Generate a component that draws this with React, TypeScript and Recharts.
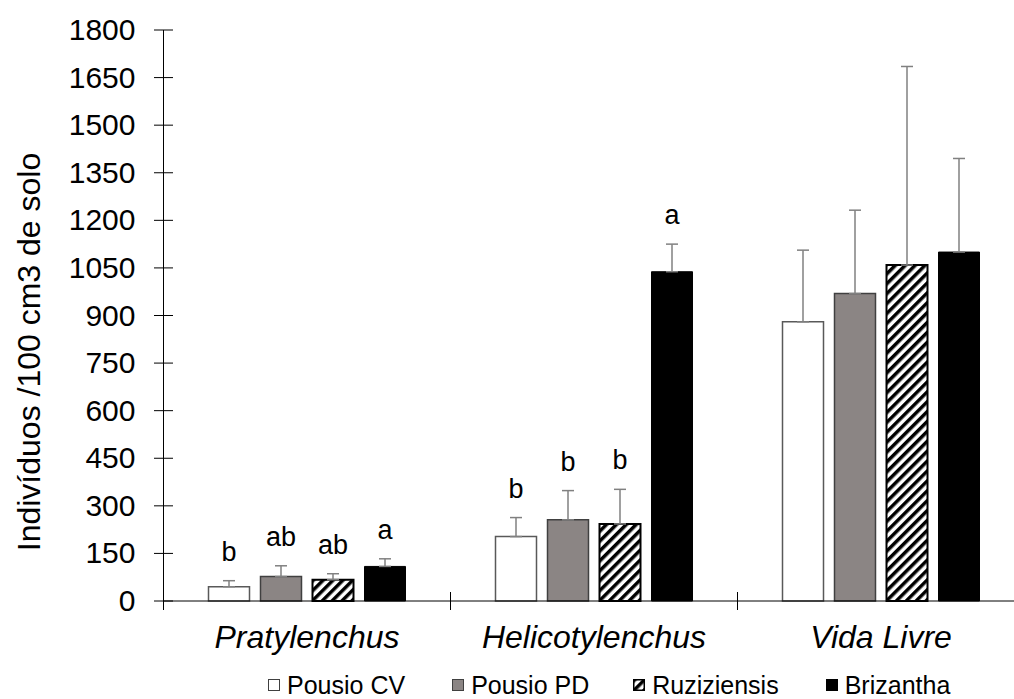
import { Bar, BarChart, ErrorBar, LabelList, Legend, XAxis, YAxis } from 'recharts'

const categories = ['Pratylenchus', 'Helicotylenchus', 'Vida Livre']
const seriesNames = ['Pousio CV', 'Pousio PD', 'Ruziziensis', 'Brizantha']

const pousioCV = [45, 203, 880]
const pousioCVErr = [19, 60, 226]
const pousioPD = [77, 256, 969]
const pousioPDErr = [34, 92, 263]
const ruziziensis = [67, 243, 1059]
const ruziziensisErr = [19, 109, 626]
const brizantha = [109, 1038, 1100]
const brizanthaErr = [24, 87, 295]

// significance letters above each bar
const cvLetters = ['b', 'b', '']
const pdLetters = ['ab', 'b', '']
const ruzLetters = ['ab', 'b', '']
const brizLetters = ['a', 'a', '']

const yTicks = [0, 150, 300, 450, 600, 750, 900, 1050, 1200, 1350, 1500, 1650, 1800]

const FONT = '"Liberation Sans", Arial, sans-serif'
const BAND = 287

const data = categories.map((c, i) => ({
  category: c,
  cv: pousioCV[i],
  cvErr: [0, pousioCVErr[i]],
  cvLetter: cvLetters[i],
  pd: pousioPD[i],
  pdErr: [0, pousioPDErr[i]],
  pdLetter: pdLetters[i],
  ruz: ruziziensis[i],
  ruzErr: [0, ruziziensisErr[i]],
  ruzLetter: ruzLetters[i],
  briz: brizantha[i],
  brizErr: [0, brizanthaErr[i]],
  brizLetter: brizLetters[i],
}))

function letterLabel(values: number[], errs: number[]) {
  return (props: any) => {
    const vb = props.viewBox ?? props
    const { x, y, width, height } = vb
    const i = props.index
    const text = props.value
    if (!text) return null
    const k = height / values[i]
    const errTop = y - errs[i] * k
    return (
      <text x={x + width / 2} y={errTop - 20} textAnchor="middle" fontSize={27} fontFamily={FONT} fill="#000">
        {text}
      </text>
    )
  }
}

function YTick(props: any) {
  const { x, y, payload } = props
  return (
    <g>
      <line x1={x - 9.5} x2={x + 9.5} y1={y} y2={y} stroke="#000" strokeWidth={1} />
      <text x={x - 28} y={y} dy={10} textAnchor="end" fontSize={30} fontFamily={FONT} fill="#000">
        {payload.value}
      </text>
    </g>
  )
}

function XTick(props: any) {
  const { x, y, payload, index } = props
  return (
    <g>
      {index === 0 && (
        <line x1={x - BAND / 2} x2={x - BAND / 2} y1={y} y2={y + 9} stroke="#000" strokeWidth={1} />
      )}
      <line x1={x + BAND / 2} x2={x + BAND / 2} y1={y - 9} y2={y + 9} stroke="#000" strokeWidth={1} />
      <text x={x} y={y + 47} textAnchor="middle" fontSize={32} fontStyle="italic" fontFamily={FONT} fill="#000">
        {payload.value}
      </text>
    </g>
  )
}

function yLabel() {
  return (
    <text x={40} y={352} transform="rotate(-90, 40, 352)" textAnchor="middle" fontSize={32} fontFamily={FONT} fill="#000">
      Indivíduos /100 cm3 de solo
    </text>
  )
}

const iconStyles = [
  { background: '#fff', border: '1.3px solid #404040' },
  { background: '#8b8584', border: '1.3px solid #404040' },
  { background: '#fff', border: '1.5px solid #000' },
  { background: '#000', border: '1.3px solid #000' },
]

function renderLegend() {
  return (
    <div style={{ height: 28, display: 'flex', alignItems: 'center', paddingLeft: 268, fontFamily: FONT, fontSize: 25, lineHeight: '25px', color: '#000' }}>
      {seriesNames.map((name, i) => (
        <div key={name} style={{ display: 'flex', alignItems: 'center', marginRight: i === 1 ? 44 : 47 }}>
          {i === 2 ? (
            <svg width={12} height={12} style={{ marginRight: 7 }}>
              <rect x={0.75} y={0.75} width={10.5} height={10.5} fill="url(#hatch)" stroke="#000" strokeWidth={1.5} />
            </svg>
          ) : (
            <span style={{ width: 12, height: 12, boxSizing: 'border-box', marginRight: 7, display: 'inline-block', ...iconStyles[i] }} />
          )}
          <span>{name}</span>
        </div>
      ))}
    </div>
  )
}

export default function App() {
  return (
    <div style={{ position: 'fixed', left: 0, top: 0, width: 1014, height: 699, overflow: 'hidden', background: '#fff' }}>
      <svg width={0} height={0} style={{ position: 'absolute' }}>
        <defs>
          <pattern id="hatch" patternUnits="userSpaceOnUse" width={7} height={7} patternTransform="rotate(45)">
            <rect x={0} y={0} width={7} height={7} fill="#fff" />
            <rect x={0} y={0} width={3.5} height={7} fill="#000" />
          </pattern>
        </defs>
      </svg>
      <BarChart
        width={1040}
        height={699}
        data={data}
        margin={{ top: 30, right: 15.5, left: 0, bottom: 10 }}
        barSize={41}
        barGap={11}
      >
        <XAxis
          dataKey="category"
          height={60}
          tickSize={0}
          tickMargin={0}
          tickLine={false}
          axisLine={{ stroke: '#000' }}
          tick={<XTick />}
          interval={0}
        />
        <YAxis
          width={163.5}
          domain={[0, 1800]}
          ticks={yTicks}
          tickSize={0}
          tickMargin={0}
          tickLine={false}
          axisLine={{ stroke: '#000' }}
          tick={<YTick />}
          interval={0}
          label={yLabel}
        />
        <Legend verticalAlign="bottom" content={renderLegend} wrapperStyle={{ top: 671, left: 0, bottom: 'auto', width: 1014, height: 28 }} />
        <Bar dataKey="cv" name={seriesNames[0]} fill="#fff" stroke="#595959" strokeWidth={1.5} isAnimationActive={false}>
          <ErrorBar dataKey="cvErr" direction="y" width={6} stroke="#808080" strokeWidth={1.5} />
          <LabelList dataKey="cvLetter" content={letterLabel(pousioCV, pousioCVErr)} />
        </Bar>
        <Bar dataKey="pd" name={seriesNames[1]} fill="#8b8584" stroke="#404040" strokeWidth={1.5} isAnimationActive={false}>
          <ErrorBar dataKey="pdErr" direction="y" width={6} stroke="#808080" strokeWidth={1.5} />
          <LabelList dataKey="pdLetter" content={letterLabel(pousioPD, pousioPDErr)} />
        </Bar>
        <Bar dataKey="ruz" name={seriesNames[2]} fill="url(#hatch)" stroke="#000" strokeWidth={2} isAnimationActive={false}>
          <ErrorBar dataKey="ruzErr" direction="y" width={6} stroke="#808080" strokeWidth={1.5} />
          <LabelList dataKey="ruzLetter" content={letterLabel(ruziziensis, ruziziensisErr)} />
        </Bar>
        <Bar dataKey="briz" name={seriesNames[3]} fill="#000" stroke="#000" strokeWidth={1} isAnimationActive={false}>
          <ErrorBar dataKey="brizErr" direction="y" width={6} stroke="#808080" strokeWidth={1.5} />
          <LabelList dataKey="brizLetter" content={letterLabel(brizantha, brizanthaErr)} />
        </Bar>
      </BarChart>
    </div>
  )
}
